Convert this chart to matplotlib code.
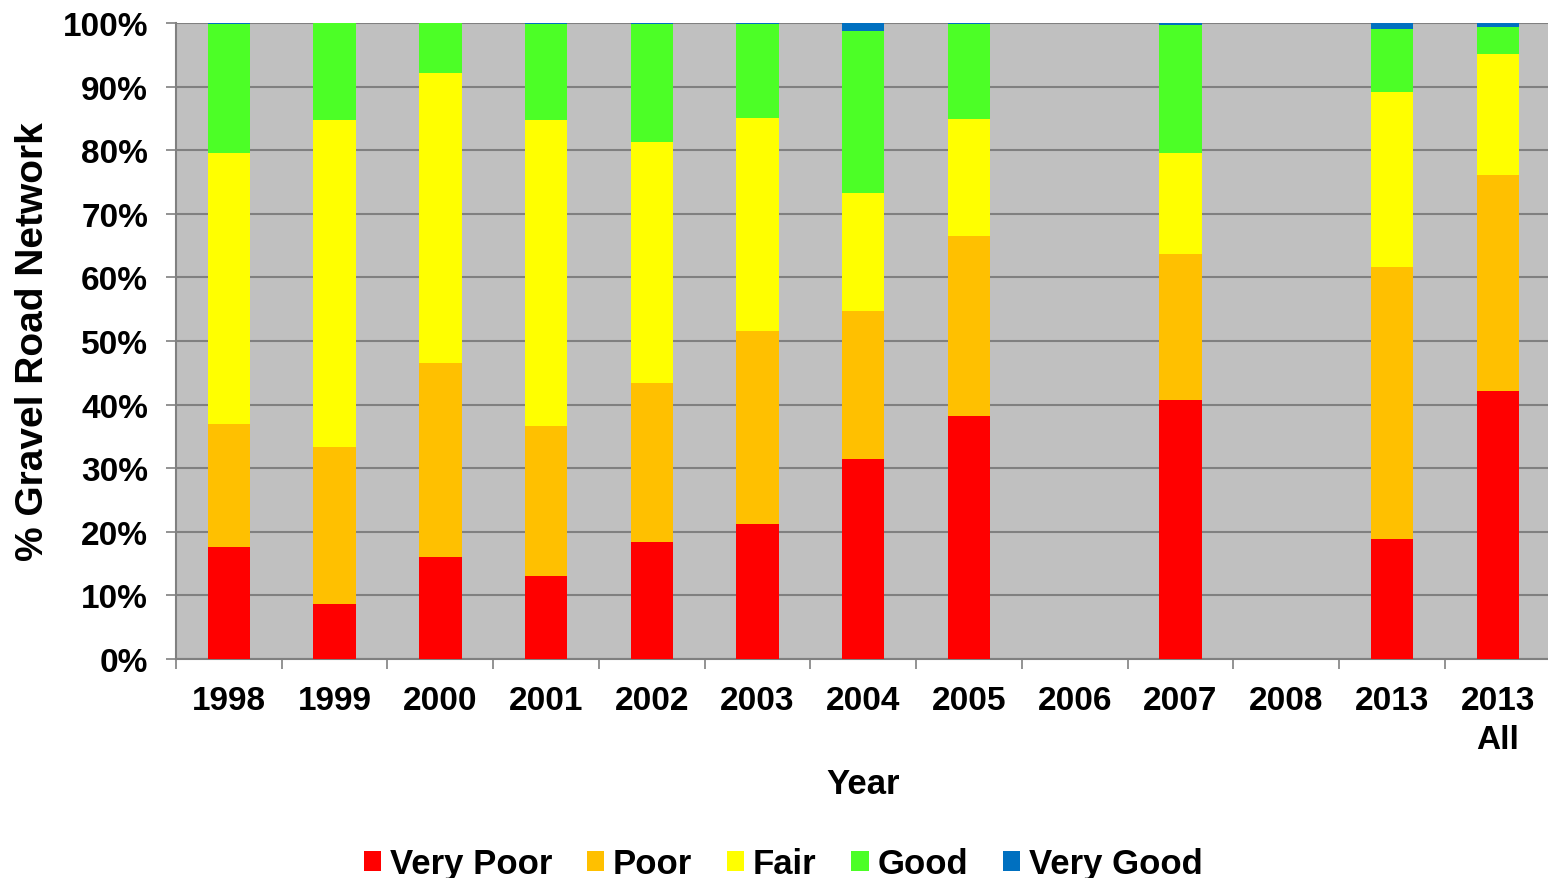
import matplotlib
matplotlib.use("Agg")
import matplotlib.pyplot as plt
import numpy as np

plt.rcParams['font.family'] = ['Liberation Sans', 'DejaVu Sans']
plt.rcParams['font.weight'] = 'bold'

years = ['1998', '1999', '2000', '2001', '2002', '2003', '2004', '2005',
         '2006', '2007', '2008', '2013', '2013\nAll']

# share of network in each condition class (percent)
very_poor = [17.6, 8.6, 16.0, 13.1, 18.4, 21.2, 31.4, 38.2, 0, 40.7, 0, 18.9, 42.1]
poor = [19.4, 24.7, 30.5, 23.5, 25.0, 30.4, 23.3, 28.3, 0, 23.0, 0, 42.7, 34.0]
fair = [42.6, 51.4, 45.6, 48.1, 37.9, 33.5, 18.6, 18.4, 0, 15.9, 0, 27.6, 19.0]
good = [20.2, 15.3, 7.9, 15.1, 18.5, 14.7, 25.4, 14.9, 0, 20.1, 0, 9.9, 4.3]
very_good = [0.2, 0.0, 0.0, 0.2, 0.2, 0.2, 1.3, 0.2, 0, 0.3, 0, 0.9, 0.6]

series = [('Very Poor', very_poor, '#FF0000'),
          ('Poor', poor, '#FFC000'),
          ('Fair', fair, '#FFFF00'),
          ('Good', good, '#4CFF26'),
          ('Very Good', very_good, '#0070C0')]

fig = plt.figure(figsize=(15.48, 8.79), dpi=100)
ax = fig.add_axes([0.1137, 0.2491, 0.888, 0.7236])
ax.set_facecolor('#C0C0C0')

x = np.arange(len(years))
bottom = np.zeros(len(years))
for name, vals, col in series:
    vals = np.array(vals, dtype=float)
    ax.bar(x, vals, 0.4, bottom=bottom, color=col, label=name, zorder=3)
    bottom += vals

ax.set_xlim(-0.5, len(years) - 0.5)
ax.set_ylim(0, 100)
ax.set_yticks(np.arange(0, 101, 10))
ax.set_yticklabels([f'{v}%' for v in range(0, 101, 10)], fontsize=24, fontweight='bold')
ax.yaxis.grid(True, color='#808080', linewidth=1.5, zorder=0)

ax.set_xticks(x)
ax.set_xticklabels(years, fontsize=24, fontweight='bold', linespacing=1.3)
ax.set_xticks(np.arange(-0.5, len(years), 1), minor=True)
ax.tick_params(axis='x', which='major', length=0, pad=19)
ax.tick_params(axis='x', which='minor', length=7, color='#808080', width=1.2)
ax.tick_params(axis='y', length=7, color='#808080', width=1.2, pad=13)

for s in ['top', 'right']:
    ax.spines[s].set_visible(False)
for s in ['left', 'bottom']:
    ax.spines[s].set_color('#808080')
    ax.spines[s].set_linewidth(1.5)

fig.text(0.5575, 0.108, 'Year', fontsize=25, fontweight='bold', ha='center', va='center')
fig.text(0.021, 0.611, '% Gravel Road Network', fontsize=28, fontweight='bold',
         rotation=90, ha='center', va='center')

fig.legend(*ax.get_legend_handles_labels(), loc='center', bbox_to_anchor=(0.506, 0.016),
           ncol=5, frameon=False, handlelength=0.5, handleheight=0.5, handletextpad=0.25,
           columnspacing=1.0, prop={'weight': 'bold', 'size': 25})

fig.savefig('out.png', dpi=100)
